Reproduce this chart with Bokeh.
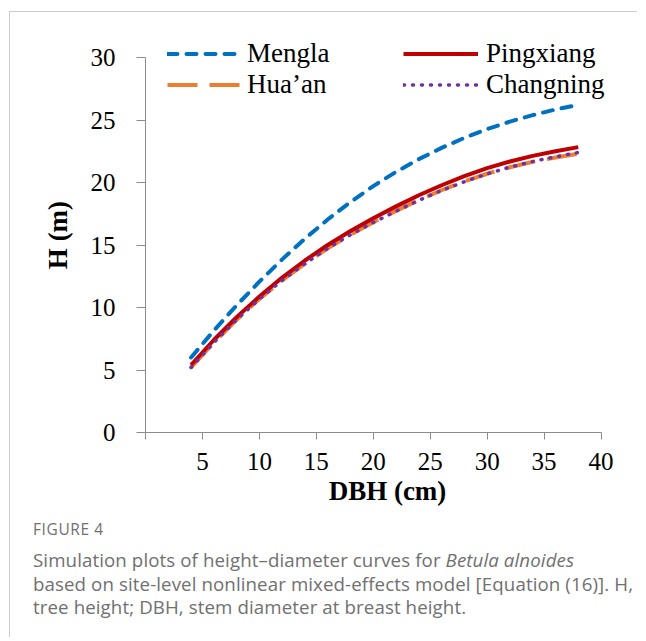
from bokeh.plotting import figure
from bokeh.models import Range1d, FixedTicker, Legend, LegendItem, Div
from bokeh.layouts import column
from bokeh.embed import file_html
from bokeh.resources import INLINE

# ---- data ----
dbh = [4, 6, 8, 10, 12, 14, 16, 18, 20, 22, 24, 26, 28, 30, 32, 34, 36, 38]
mengla = [6.0, 8.15, 10.17, 12.07, 13.85, 15.51, 17.04, 18.44, 19.71, 20.85, 21.87, 22.77, 23.57, 24.27, 24.87, 25.39, 25.84, 26.22]
pingxiang = [5.4, 7.4, 9.22, 10.88, 12.39, 13.76, 15.0, 16.12, 17.14, 18.09, 18.98, 19.78, 20.51, 21.15, 21.68, 22.13, 22.5, 22.83]
huaan = [5.2, 7.2, 9.02, 10.68, 12.17, 13.51, 14.73, 15.82, 16.82, 17.73, 18.6, 19.38, 20.08, 20.7, 21.22, 21.65, 22.0, 22.31]
changning = [5.2, 7.2, 9.02, 10.68, 12.17, 13.51, 14.73, 15.82, 16.8, 17.7, 18.57, 19.36, 20.06, 20.69, 21.23, 21.68, 22.06, 22.4]

x_ticks = [0, 5, 10, 15, 20, 25, 30, 35, 40]
y_ticks = [0, 5, 10, 15, 20, 25, 30]

SERIF = "Liberation Serif"
AXIS_GRAY = "#8c8c8c"

p = figure(width=627, height=505,
           x_range=Range1d(0, 42.5), y_range=Range1d(0, 31.6),
           output_backend="svg", toolbar_location=None,
           min_border_left=135, min_border_right=8,
           min_border_top=25, min_border_bottom=85)
p.outline_line_color = None
p.xgrid.visible = False
p.ygrid.visible = False
p.background_fill_color = "white"
p.border_fill_color = "white"

for ax in (p.xaxis[0], p.yaxis[0]):
    ax.axis_line_color = AXIS_GRAY
    ax.major_tick_line_color = AXIS_GRAY
    ax.minor_tick_line_color = None
    ax.major_tick_in = 0
    ax.major_label_text_font = SERIF
    ax.major_label_text_font_size = "25px"
    ax.major_label_text_color = "black"
    ax.axis_label_text_font = SERIF
    ax.axis_label_text_font_size = "27px"
    ax.axis_label_text_font_style = "bold"
    ax.axis_label_text_color = "black"

p.xaxis.ticker = FixedTicker(ticks=x_ticks)
p.yaxis.ticker = FixedTicker(ticks=y_ticks)
p.xaxis.bounds = (0, 40)
p.yaxis.bounds = (0, 30)
p.xaxis.major_label_overrides = {0: ""}
p.xaxis.major_tick_out = 7
p.yaxis.major_tick_out = 9
p.xaxis.major_label_standoff = 13
p.yaxis.major_label_standoff = 21
p.xaxis.axis_label = "DBH (cm)"
p.yaxis.axis_label = "H (m)"
p.xaxis.axis_label_standoff = 3
p.yaxis.axis_label_standoff = 15

r_hua = p.line(dbh, huaan, line_color="#ED7D31", line_width=4, line_dash="30 12")
r_ping = p.line(dbh, pingxiang, line_color="#C00000", line_width=4)
r_chang = p.line(dbh, changning, line_color="#7030A0", line_width=3.5,
                 line_dash="1 8", line_cap="round")
r_meng = p.line(dbh, mengla, line_color="#0070C0", line_width=4,
                line_dash="10 9", line_cap="round")

def make_legend(items, loc, standoff):
    lg = Legend(items=items, location=loc)
    lg.label_text_font = SERIF
    lg.label_text_font_size = "27px"
    lg.label_text_color = "black"
    lg.glyph_width = 75
    lg.glyph_height = 29
    lg.label_height = 29
    lg.label_standoff = standoff
    lg.spacing = 0
    lg.padding = 0
    lg.margin = 0
    lg.border_line_color = None
    lg.background_fill_alpha = 0
    return lg

leg1 = make_legend([LegendItem(label="Mengla", renderers=[r_meng]),
                    LegendItem(label="Hua\u2019an", renderers=[r_hua])], (22, 332), 5)
leg2 = make_legend([LegendItem(label="Pingxiang", renderers=[r_ping]),
                    LegendItem(label="Changning", renderers=[r_chang])], (258, 332), 8)
p.add_layout(leg1, "center")
p.add_layout(leg2, "center")

caption_html = (
    '<div style="font-family:\'Open Sans\';color:#707070;white-space:nowrap;">'
    '<div style="font-size:15.5px;letter-spacing:0.6px;line-height:18px;margin-bottom:10px;">FIGURE 4</div>'
    '<div style="font-size:18.7px;letter-spacing:0.1px;line-height:23.5px;">'
    'Simulation plots of height\u2013diameter curves for <i>Betula alnoides</i><br>'
    'based on site-level nonlinear mixed-effects model [Equation (16)]. H,<br>'
    'tree height; DBH, stem diameter at breast height.</div></div>'
)
cap = Div(text=caption_html, width=600, margin=(3, 0, 18, 23))

layout = column(p, cap, margin=(11, 0, 0, 9),
                styles={"border-left": "1px solid #cccccc",
                        "border-top": "1px solid #cccccc"})

open("out.html", "w").write(file_html(layout, INLINE))
